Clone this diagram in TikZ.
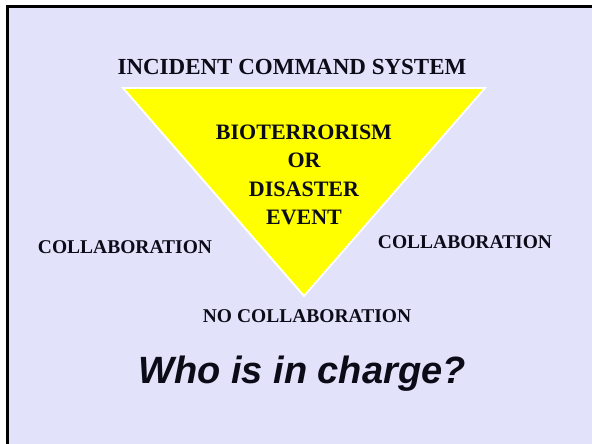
\documentclass[tikz,border=0pt]{standalone}
\usepackage{fontspec}
\setmainfont{Liberation Serif}
\newfontfamily\whofont{Liberation Sans}
\definecolor{bglav}{RGB}{226,226,251}
\definecolor{tri}{RGB}{255,255,0}
\definecolor{ink}{RGB}{12,12,24}
\begin{document}
\begin{tikzpicture}[x=1pt,y=-1pt,
  lbl/.style={text=ink,inner sep=0pt,font=\bfseries\fontsize{19.5}{22}\selectfont},
  hdr/.style={text=ink,inner sep=0pt,font=\bfseries\fontsize{23}{26}\selectfont},
  inner/.style={text=ink,inner sep=0pt,align=center,font=\bfseries\fontsize{22}{28.5}\selectfont},
  who/.style={text=ink,inner sep=0pt,font=\whofont\bfseries\itshape\fontsize{38}{44}\selectfont}]
\useasboundingbox (0,0) rectangle (592,444);
\begin{scope}
\clip (0,0) rectangle (592,444);
\fill[white] (0,0) rectangle (592,444);
\draw[line width=2.5pt,fill=bglav] (7.5,6.5) rectangle (610,460);
\end{scope}
\coordinate (tl) at (123,88);
\coordinate (tr) at (485,88);
\coordinate (ap) at (304,296);
\draw[white,line width=1.8pt,fill=tri,line join=miter] (tl) -- (tr) -- (ap) -- cycle;
\node[hdr,anchor=base] (ics) at (292,75) {INCIDENT COMMAND SYSTEM};
\node[inner] (ev) at (304,175) {BIOTERRORISM\\OR\\DISASTER\\EVENT};
\node[lbl,anchor=base] (cl) at (125,253) {COLLABORATION};
\node[lbl,anchor=base] (cr) at (465,248) {COLLABORATION};
\node[lbl,anchor=base] (nc) at (307,322) {NO COLLABORATION};
\node[who,anchor=base] (who) at (302,383) {Who is in charge?};
\end{tikzpicture}
\end{document}
